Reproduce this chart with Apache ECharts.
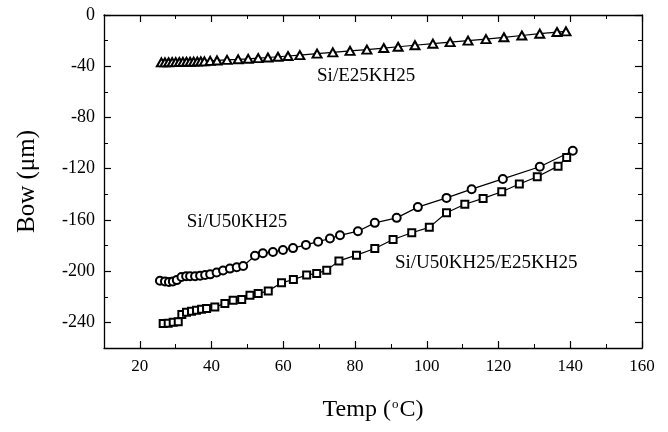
<!DOCTYPE html>
<html>
<head>
<meta charset="utf-8">
<script src="https://cdn.jsdelivr.net/npm/echarts@6/dist/echarts.min.js"></script>
<style>
html, body { margin: 0; padding: 0; background: #fff; }
#chart { width: 668px; height: 432px; }
</style>
</head>
<body>
<div id="chart"></div>
<script>
// Si/E25KH25 (triangles)
const e25Temp = [26, 27, 28, 29, 30, 31, 32, 33, 34, 35, 36, 37, 38, 39.6, 41.5, 44.3, 47.4, 50.2, 53, 55.7, 58.5, 61.3, 64.6, 69.4, 73.8, 78.6, 83.3, 88, 92, 96.7, 101.7, 106.5, 111.5, 116.5, 121.5, 126.5, 131.5, 136.3, 138.8];
const e25Bow = [-37, -37, -36.9, -36.8, -36.8, -36.7, -36.6, -36.5, -36.5, -36.4, -36.3, -36.2, -36.2, -35.8, -35.5, -35, -34.6, -34.2, -33.7, -33.2, -32.6, -32, -31.3, -30.2, -29.2, -28, -27, -25.8, -24.8, -23.6, -22.4, -21.2, -20, -18.8, -17.4, -16, -14.6, -13.3, -12.8];

// Si/U50KH25 (circles)
const u50Temp = [25.6, 27, 28.1, 29.2, 30.3, 31.6, 32.9, 34, 35.4, 36.8, 38.2, 39.6, 41.4, 43.2, 45.1, 47, 48.8, 52.1, 54.3, 57.1, 59.9, 62.7, 66.3, 69.7, 73, 75.8, 80.8, 85.5, 91.6, 97.5, 105.5, 112.5, 121.2, 131.5, 140.7];
const u50Bow = [-207.5, -208, -208.5, -208, -207, -204.5, -204, -204, -204, -203.5, -203, -202.5, -201, -199.5, -198, -197, -196, -188, -186, -185, -183.5, -182, -179.5, -177, -174.5, -172, -168.8, -162.3, -158.4, -150, -142.8, -136, -128, -118.5, -106];

// Si/U50KH25/E25KH25 (squares)
const bothTemp = [26.5, 27.9, 29.3, 30.7, 31.7, 33, 34.4, 35.8, 37.2, 38.6, 40.9, 43.7, 46, 48.4, 50.7, 53, 55.8, 59.5, 62.8, 66.5, 69.3, 72.1, 75.5, 80.4, 85.5, 90.6, 95.8, 100.7, 105.5, 110.6, 115.7, 120.9, 125.8, 130.8, 136.6, 139];
const bothBow = [-240.9, -240.7, -239.9, -239.6, -233.9, -232.1, -231.3, -230.5, -229.7, -229.2, -227.9, -225.3, -222.7, -222.2, -218.8, -217.5, -215.4, -209.1, -206.5, -203.1, -201.8, -199.2, -192, -187.5, -182.3, -175.3, -170, -165.8, -154.4, -147.8, -143.2, -138, -132, -126.3, -118, -111.2];

const xMajor = [20, 40, 60, 80, 100, 120, 140, 160];
const yMajor = [-240, -200, -160, -120, -80, -40, 0];

const noteText = ['Si/E25KH25', 'Si/U50KH25', 'Si/U50KH25/E25KH25'];
const noteAt = [[69.4, -47.5], [33.1, -161.7], [91.1, -193.8]];

const FONT = 'Liberation Serif';
const zip = (a, b) => a.map((v, i) => [v, b[i]]);

const line = { color: '#000', width: 1.3 };
const xBase = { type: 'value', min: 10, max: 160, splitLine: { show: false } };
const yBase = { type: 'value', min: -260, max: 0, splitLine: { show: false } };

function majorAxis(base, pos, ticks, labels, extra) {
    return Object.assign({}, base, {
        position: pos,
        axisLine: { show: true, onZero: false, lineStyle: line },
        axisTick: { inside: true, length: 7, customValues: ticks, lineStyle: { color: '#000', width: 1.2 } },
        axisLabel: labels ? Object.assign({ customValues: ticks, color: '#000', fontFamily: FONT, fontSize: 17 }, labels) : { show: false }
    }, extra || {});
}
function minorAxis(base, pos, step) {
    return Object.assign({}, base, {
        position: pos,
        interval: step,
        axisLine: { show: false, onZero: false },
        axisTick: { inside: true, length: 4, lineStyle: { color: '#000', width: 1 } },
        axisLabel: { show: false }
    });
}

const chart = echarts.init(document.getElementById('chart'));
const option = {
    animation: false,
    backgroundColor: '#fff',
    grid: { left: 104, right: 26, top: 15, bottom: 84 },
    xAxis: [
        majorAxis(xBase, 'bottom', xMajor, { margin: 10 }, {
            name: '{t|Temp (}{s|o}{t|C)}',
            nameLocation: 'middle',
            nameGap: 50,
            nameTextStyle: {
                rich: {
                    t: { fontFamily: FONT, fontSize: 24, color: '#000' },
                    s: { fontFamily: FONT, fontSize: 13, color: '#000', verticalAlign: 'top', lineHeight: 13, padding: [0, 1, 14, 1] }
                }
            }
        }),
        minorAxis(xBase, 'bottom', 10),
        majorAxis(xBase, 'top', xMajor, null),
        minorAxis(xBase, 'top', 10)
    ],
    yAxis: [
        majorAxis(yBase, 'left', yMajor, { margin: 9, fontSize: 18 }, {
            name: 'Bow (μm)',
            nameLocation: 'middle',
            nameGap: 64,
            nameTextStyle: { fontFamily: FONT, fontSize: 25, color: '#000' }
        }),
        minorAxis(yBase, 'left', 20),
        majorAxis(yBase, 'right', yMajor, null),
        minorAxis(yBase, 'right', 20)
    ],
    series: [
        {
            type: 'line', data: zip(e25Temp, e25Bow),
            symbol: 'emptyTriangle', symbolSize: [9, 8],
            lineStyle: { color: '#000', width: 1.2 },
            itemStyle: { color: '#000', borderWidth: 1.2 }
        },
        {
            type: 'line', data: zip(u50Temp, u50Bow),
            symbol: 'emptyCircle', symbolSize: 8,
            lineStyle: { color: '#000', width: 1.2 },
            itemStyle: { color: '#000', borderWidth: 1.2 }
        },
        {
            type: 'line', data: zip(bothTemp, bothBow),
            symbol: 'emptyRect', symbolSize: 7,
            lineStyle: { color: '#000', width: 1.2 },
            itemStyle: { color: '#000', borderWidth: 1.2 }
        }
    ]
};
chart.setOption(option);

chart.setOption({
    graphic: noteText.map((t, i) => {
        const p = chart.convertToPixel({ xAxisIndex: 0, yAxisIndex: 0 }, noteAt[i]);
        return {
            type: 'text', x: p[0], y: p[1],
            style: { text: t, fontFamily: FONT, fontSize: 19, fill: '#000', align: 'left', verticalAlign: 'middle' }
        };
    })
});
</script>
</body>
</html>
